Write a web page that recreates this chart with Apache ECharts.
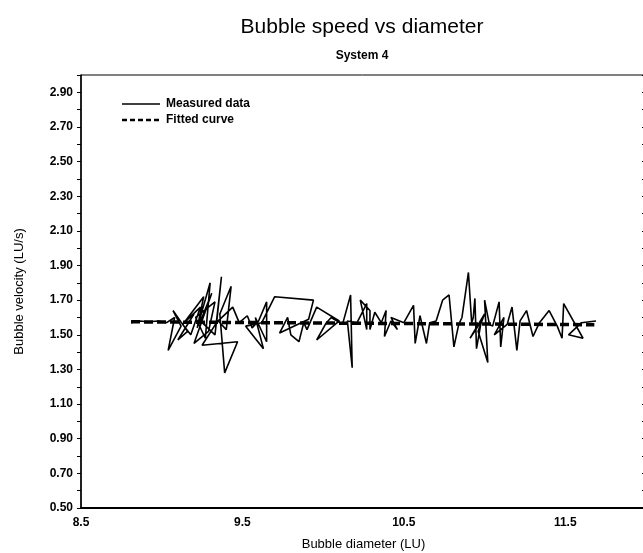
<!DOCTYPE html>
<html>
<head>
<meta charset="utf-8">
<script src="https://cdn.jsdelivr.net/npm/echarts@6/dist/echarts.min.js"></script>
<style>html,body{margin:0;padding:0;background:#fff;}#c{width:643px;height:553px;}</style>
</head>
<body>
<div id="c"></div>
<script>
// Measured data: diameter (LU), velocity (LU/s) in recorded order
var measuredX = [8.81,8.86,8.92,8.98,9.03,9.08,9.04,9.12,9.07,9.16,9.10,9.20,9.15,9.24,9.18,9.13,9.26,9.22,9.30,9.27,9.21,9.33,9.29,9.20,9.31,9.24,9.33,9.37,9.34,9.25,9.47,9.39,9.36,9.43,9.40,9.35,9.44,9.48,9.53,9.56,9.60,9.65,9.65,9.58,9.63,9.52,9.62,9.70,9.94,9.91,9.73,9.78,9.80,9.85,9.88,9.90,9.96,10.10,9.96,10.02,10.05,10.12,10.17,10.18,10.15,10.21,10.27,10.27,10.23,10.29,10.29,10.32,10.36,10.39,10.38,10.42,10.46,10.42,10.50,10.56,10.57,10.60,10.64,10.66,10.70,10.74,10.78,10.81,10.84,10.86,10.90,10.92,10.93,10.94,10.95,10.98,10.91,11.00,10.96,11.02,11.00,11.03,11.05,11.09,11.10,11.12,11.06,11.14,11.17,11.20,11.22,11.26,11.30,11.34,11.40,11.45,11.48,11.49,11.61,11.52,11.60,11.69];
var measuredY = [1.57,1.58,1.575,1.58,1.57,1.60,1.41,1.55,1.64,1.52,1.47,1.62,1.58,1.66,1.50,1.56,1.72,1.54,1.80,1.48,1.60,1.69,1.52,1.45,1.74,1.58,1.50,1.835,1.57,1.44,1.46,1.28,1.62,1.78,1.53,1.58,1.66,1.57,1.61,1.54,1.58,1.69,1.46,1.60,1.42,1.55,1.57,1.72,1.70,1.59,1.51,1.60,1.50,1.46,1.57,1.53,1.66,1.58,1.47,1.57,1.60,1.56,1.73,1.31,1.58,1.57,1.68,1.53,1.70,1.64,1.53,1.63,1.57,1.64,1.49,1.58,1.53,1.60,1.57,1.67,1.45,1.61,1.45,1.57,1.58,1.70,1.73,1.43,1.56,1.60,1.86,1.57,1.60,1.71,1.42,1.58,1.48,1.62,1.52,1.34,1.70,1.56,1.55,1.69,1.43,1.60,1.50,1.56,1.66,1.41,1.58,1.64,1.49,1.57,1.64,1.55,1.48,1.68,1.48,1.50,1.57,1.58];
// Fitted curve
var fitX = [8.81, 11.68];
var fitY = [1.575, 1.558];
var seriesNames = ['Measured data', 'Fitted curve'];

function pairs(xs, ys){ var out=[]; for (var i=0;i<xs.length;i++) out.push([xs[i], ys[i]]); return out; }

var chart = echarts.init(document.getElementById('c'), null, {renderer:'canvas'});
var FONT = 'Liberation Sans';
chart.setOption({
  animation: false,
  backgroundColor: '#fff',
  graphic: [
    {type:'text', x:362, y:27, style:{text:'Bubble speed vs diameter', font:'21px "Liberation Sans"', fill:'#000', textAlign:'center', textVerticalAlign:'middle'}},
    {type:'text', x:362, y:56, style:{text:'System 4', font:'bold 12px "Liberation Sans"', fill:'#000', textAlign:'center', textVerticalAlign:'middle'}},
    {type:'line', shape:{x1:122, y1:104, x2:160, y2:104}, style:{stroke:'#000', lineWidth:1.5}},
    {type:'text', x:166, y:104, style:{text:seriesNames[0], font:'bold 12px "Liberation Sans"', fill:'#000', textVerticalAlign:'middle'}},
    {type:'line', shape:{x1:122, y1:120, x2:160, y2:120}, style:{stroke:'#000', lineWidth:2.5, lineDash:[5,3]}},
    {type:'text', x:166, y:120, style:{text:seriesNames[1], font:'bold 12px "Liberation Sans"', fill:'#000', textVerticalAlign:'middle'}}
  ],
  grid: {left: 81, top: 75, right: -3, bottom: 45, show: true, borderColor: '#000', borderWidth: 1, containLabel: false, outerBoundsMode: 'none'},
  xAxis: {
    type: 'value', min: 8.5, max: 12, interval: 0.5,
    name: 'Bubble diameter (LU)', nameLocation: 'middle', nameGap: 30,
    nameTextStyle: {fontFamily: FONT, fontSize: 13, color: '#000'},
    axisLine: {show: true, lineStyle: {color: '#000', width: 2}},
    axisTick: {show: false},
    splitLine: {show: false},
    axisLabel: {fontFamily: FONT, fontSize: 12, fontWeight: 'bold', color: '#000', margin: 9,
      formatter: function(v){ var d = v - 8.5; return Math.abs(d - Math.round(d)) < 1e-6 ? v.toFixed(1) : ''; }}
  },
  yAxis: [{
    type: 'value', min: 0.5, max: 3.0, interval: 0.1, position: 'left',
    name: 'Bubble velocity (LU/s)', nameLocation: 'middle', nameGap: 55,
    nameTextStyle: {fontFamily: FONT, fontSize: 13, color: '#000'},
    axisLine: {show: true, lineStyle: {color: '#000', width: 1.5}},
    axisTick: {show: true, length: 4, lineStyle: {color: '#000'}},
    splitLine: {show: false},
    axisLabel: {fontFamily: FONT, fontSize: 12, fontWeight: 'bold', color: '#000', margin: 8,
      formatter: function(v){ var k = Math.round(v*10); return (k % 2 === 1) ? v.toFixed(2) : ''; }}
  }, {
    type: 'value', min: 0.5, max: 3.0, interval: 0.1, position: 'right',
    axisLine: {show: true, lineStyle: {color: '#000', width: 1}},
    axisTick: {show: true, inside: true, length: 4, lineStyle: {color: '#000'}},
    axisLabel: {show: false}, splitLine: {show: false}
  }],
  series: [
    {name: seriesNames[0], type: 'line', data: pairs(measuredX, measuredY), symbol: 'none', showSymbol: false,
     lineStyle: {color: '#000', width: 1.6}, itemStyle: {color: '#000'}},
    {name: seriesNames[1], type: 'line', data: pairs(fitX, fitY), symbol: 'none', showSymbol: false,
     lineStyle: {color: '#000', width: 3.5, type: [9, 4]}, itemStyle: {color: '#000'}}
  ]
});
</script>
</body>
</html>
